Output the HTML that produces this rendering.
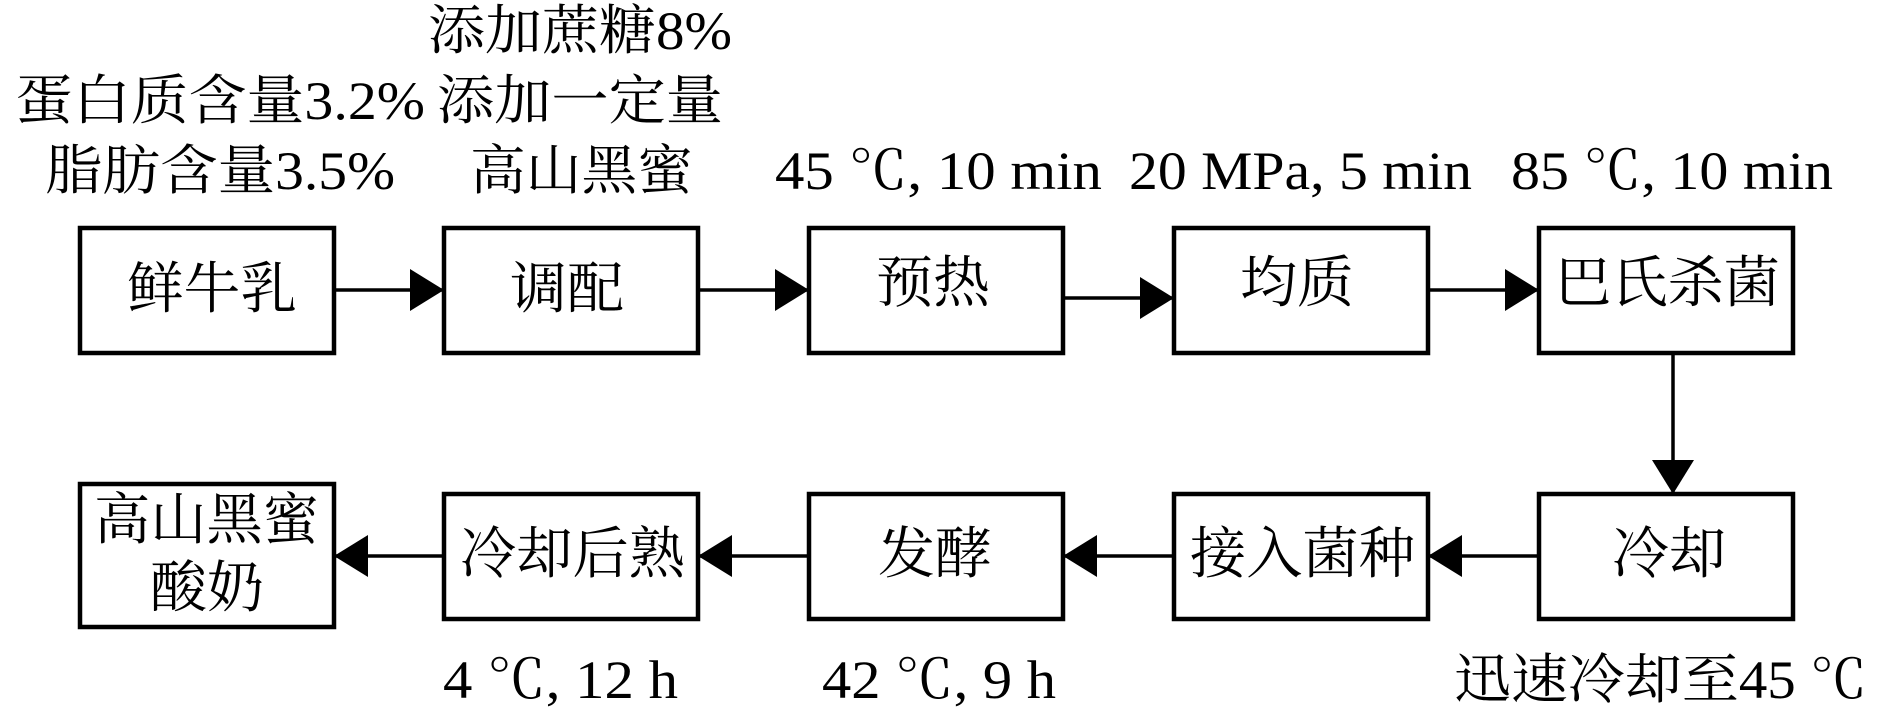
<!DOCTYPE html>
<html><head><meta charset="utf-8"><style>
html,body{margin:0;padding:0;background:#fff;}
svg{display:block;}
text{font-family:"Liberation Serif","Noto Serif CJK SC",serif;fill:#000;}
</style></head><body>
<svg width="1890" height="716" viewBox="0 0 1890 716" xmlns="http://www.w3.org/2000/svg">
<defs>
<marker id="a" markerWidth="34" markerHeight="42" refX="34" refY="21" orient="auto" markerUnits="userSpaceOnUse">
<path d="M0,0 L34,21 L0,42 Z" fill="#000"/>
</marker>
</defs>
<g fill="none" stroke="#000" stroke-width="4.5">
<rect x="80" y="228" width="254" height="125"/>
<rect x="444" y="228" width="254" height="125"/>
<rect x="809" y="228" width="254" height="125"/>
<rect x="1174" y="228" width="254" height="125"/>
<rect x="1539" y="228" width="254" height="125"/>
<rect x="80" y="484" width="254" height="143"/>
<rect x="444" y="494" width="254" height="125"/>
<rect x="809" y="494" width="254" height="125"/>
<rect x="1174" y="494" width="254" height="125"/>
<rect x="1539" y="494" width="254" height="125"/>
</g>
<g stroke="#000" stroke-width="3.5" marker-end="url(#a)">
<line x1="334" y1="290" x2="444" y2="290"/>
<line x1="698" y1="290" x2="809" y2="290"/>
<line x1="1063" y1="298" x2="1174" y2="298"/>
<line x1="1428" y1="290" x2="1539" y2="290"/>
<line x1="1673" y1="353" x2="1673" y2="494"/>
<line x1="1539" y1="556" x2="1428" y2="556"/>
<line x1="1174" y1="556" x2="1063" y2="556"/>
<line x1="809" y1="556" x2="698" y2="556"/>
<line x1="444" y1="556" x2="334" y2="556"/>
</g>
<g font-size="56" dominant-baseline="central">
<text x="127" y="290" textLength="170" lengthAdjust="spacingAndGlyphs">鲜牛乳</text>
<text x="510" y="290" textLength="114" lengthAdjust="spacingAndGlyphs">调配</text>
<text x="876" y="284" textLength="114" lengthAdjust="spacingAndGlyphs">预热</text>
<text x="1240" y="284" textLength="114" lengthAdjust="spacingAndGlyphs">均质</text>
<text x="1555" y="284" textLength="225" lengthAdjust="spacingAndGlyphs">巴氏杀菌</text>
<text x="1612" y="555" textLength="114" lengthAdjust="spacingAndGlyphs">冷却</text>
<text x="1190" y="555" textLength="225" lengthAdjust="spacingAndGlyphs">接入菌种</text>
<text x="878" y="555" textLength="114" lengthAdjust="spacingAndGlyphs">发酵</text>
<text x="460" y="555" textLength="225" lengthAdjust="spacingAndGlyphs">冷却后熟</text>
<text x="94" y="521" textLength="225" lengthAdjust="spacingAndGlyphs">高山黑蜜</text>
<text x="150" y="589" textLength="114" lengthAdjust="spacingAndGlyphs">酸奶</text>
</g>
<g font-size="54" dominant-baseline="central">
<text x="428" y="31" textLength="304" lengthAdjust="spacingAndGlyphs">添加蔗糖8%</text>
<text x="15" y="101" textLength="410" lengthAdjust="spacingAndGlyphs">蛋白质含量3.2%</text>
<text x="437" y="101" textLength="286" lengthAdjust="spacingAndGlyphs">添加一定量</text>
<text x="45" y="171" textLength="350" lengthAdjust="spacingAndGlyphs">脂肪含量3.5%</text>
<text x="470" y="171" textLength="223" lengthAdjust="spacingAndGlyphs">高山黑蜜</text>
<text x="775" y="171" textLength="327" lengthAdjust="spacingAndGlyphs">45 ℃, 10 min</text>
<text x="1129" y="171" textLength="343" lengthAdjust="spacingAndGlyphs">20 MPa, 5 min</text>
<text x="1511" y="171" textLength="322" lengthAdjust="spacingAndGlyphs">85 ℃, 10 min</text>
<text x="443" y="680" textLength="235" lengthAdjust="spacingAndGlyphs">4 ℃, 12 h</text>
<text x="822" y="680" textLength="234" lengthAdjust="spacingAndGlyphs">42 ℃, 9 h</text>
<text x="1454" y="680" textLength="413" lengthAdjust="spacingAndGlyphs">迅速冷却至45 ℃</text>
</g>
</svg>
</body></html>
